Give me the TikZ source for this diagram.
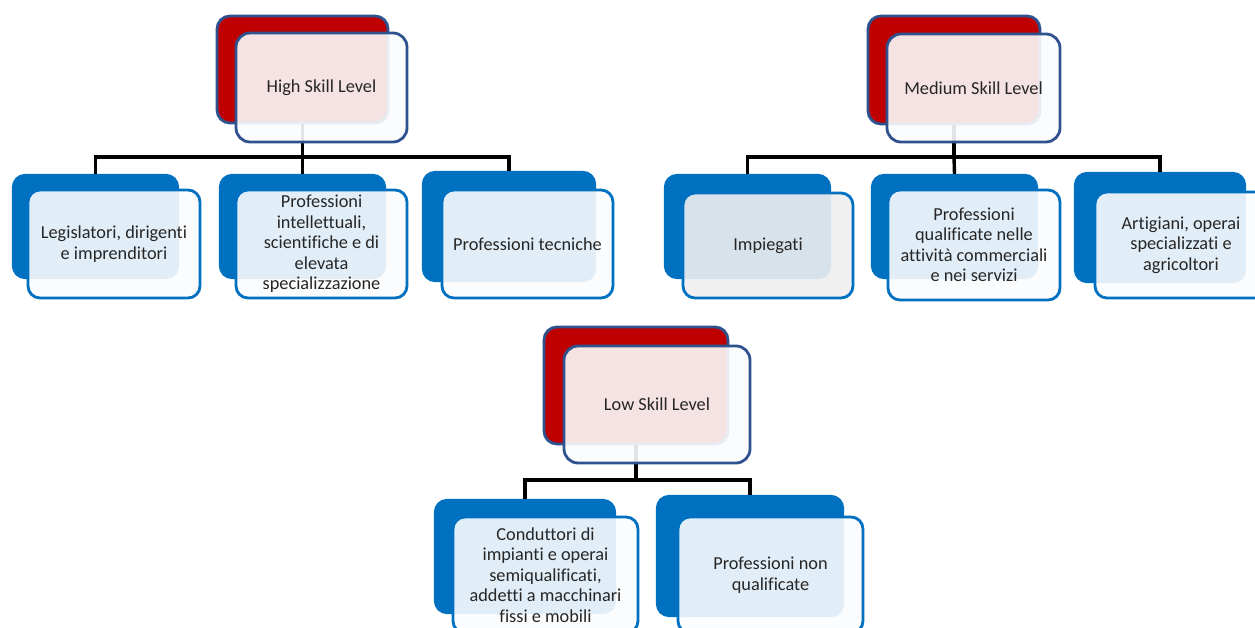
\documentclass[tikz,border=0pt]{standalone}
\usepackage{fontspec}
\setmainfont[Ligatures={NoCommon},Contextuals={NoAlternate}]{Carlito}
\definecolor{rootred}{HTML}{C00000}
\definecolor{rootedge}{HTML}{2F528F}
\definecolor{kidblue}{HTML}{0070C0}
\definecolor{txt}{HTML}{262626}
\definecolor{frontgray}{HTML}{EFEFEF}
\definecolor{frontwhite}{HTML}{FBFCFD}
\begin{document}
\begin{tikzpicture}[x=1pt,y=-1pt,
  rootback/.style={draw=rootedge,line width=2.8pt,fill=rootred,rounded corners=13pt,inner sep=0pt},
  rootfront/.style={draw=rootedge,line width=2.8pt,fill=frontwhite,fill opacity=0.9,text opacity=1,rounded corners=14pt,inner sep=0pt,text=txt,align=center,font=\fontsize{18.3}{20.5}\selectfont},
  kidback/.style={draw=kidblue,line width=2.2pt,fill=kidblue,rounded corners=12pt,inner sep=0pt},
  kidfront/.style={draw=kidblue,line width=2.8pt,fill=frontwhite,fill opacity=0.9,text opacity=1,rounded corners=12pt,inner sep=0pt,text=txt,align=center,font=\fontsize{18.3}{20.5}\selectfont},
  conn/.style={draw=black,line width=3.4pt}]
\useasboundingbox (0,0) rectangle (1255,628);
\fill[white] (0,0) rectangle (1255,628);

% ---------- back boxes ----------
\node[rootback,minimum width=171pt,minimum height=107pt] (hb) at (302.5,69.5) {};
\node[rootback,minimum width=172pt,minimum height=108pt] (mb) at (954,70) {};
\node[rootback,minimum width=184pt,minimum height=117pt] (lb) at (636,385.5) {};

\node[kidback,minimum width=165pt,minimum height=103pt] (h1b) at (95.5,226.5) {};
\node[kidback,minimum width=165pt,minimum height=103pt] (h2b) at (302.5,226.5) {};
\node[kidback,minimum width=172pt,minimum height=109pt] (h3b) at (509,226.5) {};

\node[kidback,minimum width=165pt,minimum height=103pt] (m1b) at (747.5,226.5) {};
\node[kidback,minimum width=165pt,minimum height=103pt] (m2b) at (954.5,226.5) {};
\node[kidback,minimum width=170pt,minimum height=109pt] (m3b) at (1160,227.5) {};

\node[kidback,minimum width=180pt,minimum height=113pt] (l1b) at (525,556.5) {};
\node[kidback,minimum width=186pt,minimum height=120pt] (l2b) at (750,556) {};

% ---------- connectors ----------
\coordinate (hbus) at (302.5,157);
\coordinate (mbus) at (954,157);
\coordinate (lbus) at (636,480);
\draw[conn] (hb.south) -- (hbus);
\draw[conn] (h1b.north) |- (hbus) -| (h3b.north);
\draw[conn] (hbus) -- (h2b.north);
\draw[conn] (mb.south) -- (mbus);
\draw[conn] (m1b.north) |- (mbus) -| (m3b.north);
\draw[conn] (mbus) -- (m2b.north);
\draw[conn] (lb.south) -- (lbus);
\draw[conn] (l1b.north) |- (lbus) -| (l2b.north);

% ---------- front boxes ----------
\node[rootfront,minimum width=171pt,minimum height=109pt] (hf) at (321.5,87.5) {High Skill Level};
\node[rootfront,minimum width=173pt,minimum height=108pt] (mf) at (973.5,88) {Medium Skill Level};
\node[rootfront,minimum width=186pt,minimum height=117pt] (lf) at (657,404.5) {Low Skill Level};

\node[kidfront,minimum width=172pt,minimum height=108pt] (h1f) at (114,244) {Legislatori, dirigenti\\e imprenditori};
\node[kidfront,minimum width=171pt,minimum height=108pt] (h2f) at (321.5,244) {Professioni\\intellettuali,\\scientifiche e di\\elevata\\specializzazione};
\node[kidfront,minimum width=171pt,minimum height=108pt] (h3f) at (527.5,244) {Professioni tecniche};

\node[kidfront,fill=frontgray,minimum width=170pt,minimum height=105pt] (m1f) at (768,245.5) {Impiegati};
\node[kidfront,minimum width=172pt,minimum height=110pt] (m2f) at (974,245) {Professioni\\qualificate nelle\\attività commerciali\\e nei servizi};
\node[kidfront,minimum width=172pt,minimum height=106pt] (m3f) at (1181,245) {Artigiani, operai\\specializzati e\\agricoltori};

\node[kidfront,minimum width=185pt,minimum height=116pt] (l1f) at (545.5,575) {Conduttori di\\impianti e operai\\semiqualificati,\\addetti a macchinari\\fissi e mobili};
\node[kidfront,minimum width=185pt,minimum height=116pt] (l2f) at (770.5,575) {Professioni non\\qualificate};
\end{tikzpicture}
\end{document}
